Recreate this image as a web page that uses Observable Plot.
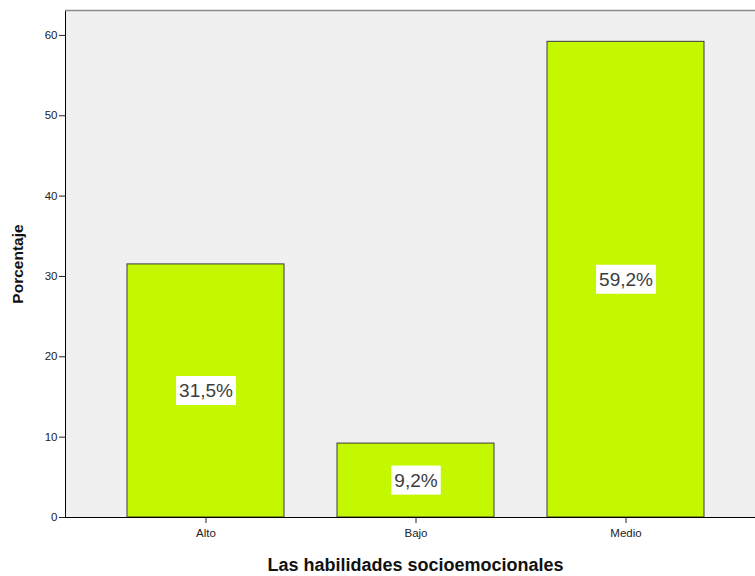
<!DOCTYPE html>
<html>
<head>
<meta charset="utf-8">
<script src="https://cdn.jsdelivr.net/npm/d3@7"></script>
<script src="https://cdn.jsdelivr.net/npm/@observablehq/plot@0.6"></script>
<style>
  html, body { margin: 0; padding: 0; background: #fff; overflow: hidden; }
  #chart svg { overflow: hidden; }
</style>
</head>
<body>
<div id="chart"></div>
<script>
const categories = ["Alto", "Bajo", "Medio"];
const values = [31.5, 9.2, 59.2];
const valueLabels = ["31,5%", "9,2%", "59,2%"];
const yTicks = [0, 10, 20, 30, 40, 50, 60];
const yTop = 63.1;
const xTitle = "Las habilidades socioemocionales";
const yTitle = "Porcentaje";

const data = categories.map((c, i) => ({cat: c, val: values[i], lab: valueLabels[i]}));

const chart = Plot.plot({
  width: 755,
  height: 576,
  marginLeft: 65,
  marginRight: -10,
  marginTop: 10,
  marginBottom: 59,
  style: {fontFamily: "Arial, 'Liberation Sans', sans-serif", fontSize: "11.5px", color: "#222", background: "#fff"},
  x: {domain: categories, paddingInner: 0.253, paddingOuter: 0.2925, label: null, tickSize: 6, tickPadding: 5},
  y: {domain: [0, yTop], ticks: yTicks, label: null, tickSize: 6, tickPadding: 2},
  marks: [
    Plot.frame({fill: "#f0f0f0", stroke: "#000"}),
    Plot.ruleY([yTop], {stroke: "#8a8a8a", strokeWidth: 1.5}),
    Plot.barY(data, {x: "cat", y: "val", fill: "#c3f800", stroke: "#3a3a3a", strokeWidth: 1}),
    Plot.ruleY([0], {stroke: "#000"}),
    Plot.text(data, {x: "cat", y: d => d.val / 2, text: "lab", fontSize: 19, fill: "#3c3c3c"}),
    Plot.text([yTitle], {frameAnchor: "left", textAnchor: "middle", lineAnchor: "middle", dx: -47, rotate: -90, fontWeight: "bold", fontSize: 15.5, fill: "#111"}),
    Plot.text([xTitle], {frameAnchor: "bottom", textAnchor: "middle", lineAnchor: "middle", dy: 48, fontWeight: "bold", fontSize: 18, fill: "#111"})
  ]
});
document.getElementById("chart").appendChild(chart);

// white boxes behind the in-bar value labels
const labelSet = new Set(valueLabels);
chart.querySelectorAll("text").forEach(t => {
  if (!labelSet.has(t.textContent)) return;
  const b = t.getBBox();
  const r = document.createElementNS("http://www.w3.org/2000/svg", "rect");
  const padX = 3, padY = 4;
  r.setAttribute("x", b.x - padX);
  r.setAttribute("y", b.y - padY);
  r.setAttribute("width", b.width + 2 * padX);
  r.setAttribute("height", b.height + 2 * padY);
  r.setAttribute("fill", "#fff");
  const tr = t.getAttribute("transform");
  if (tr) r.setAttribute("transform", tr);
  t.parentNode.insertBefore(r, t);
});
</script>
</body>
</html>
